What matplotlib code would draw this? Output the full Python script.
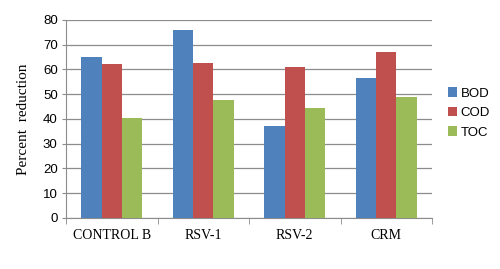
import matplotlib
matplotlib.use("Agg")
import matplotlib.pyplot as plt
import numpy as np

categories = ["CONTROL B", "RSV-1", "RSV-2", "CRM"]
bod = [65.0, 76.0, 37.0, 56.5]
cod = [62.3, 62.5, 60.8, 67.2]
toc = [40.2, 47.7, 44.6, 49.0]
series_names = ["BOD", "COD", "TOC"]
colors = ["#4F81BD", "#C0504D", "#9BBB59"]

fig = plt.figure(figsize=(5, 2.69), dpi=100)
ax = fig.add_axes([0.132, 0.19, 0.732, 0.736])

x = np.arange(len(categories))
w = 0.222
for i, (vals, name, c) in enumerate(zip([bod, cod, toc], series_names, colors)):
    ax.bar(x + (i - 1) * w, vals, width=w, color=c, label=name, zorder=3)

ax.set_xlim(-0.5, len(categories) - 0.5)
ax.set_ylim(0, 80)
ax.set_yticks(range(0, 81, 10))
ax.yaxis.grid(True, color="#8c8c8c", linewidth=0.9, zorder=0)
ax.set_axisbelow(True)

for s in ["top", "right"]:
    ax.spines[s].set_visible(False)
ax.spines["left"].set_color("#8c8c8c")
ax.spines["bottom"].set_color("#8c8c8c")

ax.set_xticks(x)
ax.set_xticklabels(categories, fontfamily="Liberation Serif", fontsize=10)
ax.tick_params(axis="x", length=0, pad=8)
ax.set_xticks(np.arange(-0.5, len(categories), 1), minor=True)
ax.tick_params(axis="x", which="minor", length=4, color="#8c8c8c", direction="out")
ax.tick_params(axis="y", length=3, color="#8c8c8c", labelsize=9.5, pad=3)
for lab in ax.get_yticklabels():
    lab.set_fontfamily("Liberation Sans")

ax.set_ylabel("Percent  reduction", fontfamily="Liberation Serif", fontsize=11, labelpad=9)

leg = ax.legend(loc="center left", bbox_to_anchor=(1.01, 0.53), frameon=False,
                prop={"family": "Liberation Sans", "size": 9.5},
                handlelength=0.7, handleheight=0.7, handletextpad=0.3, labelspacing=0.55)

fig.savefig("out.png", dpi=100)
